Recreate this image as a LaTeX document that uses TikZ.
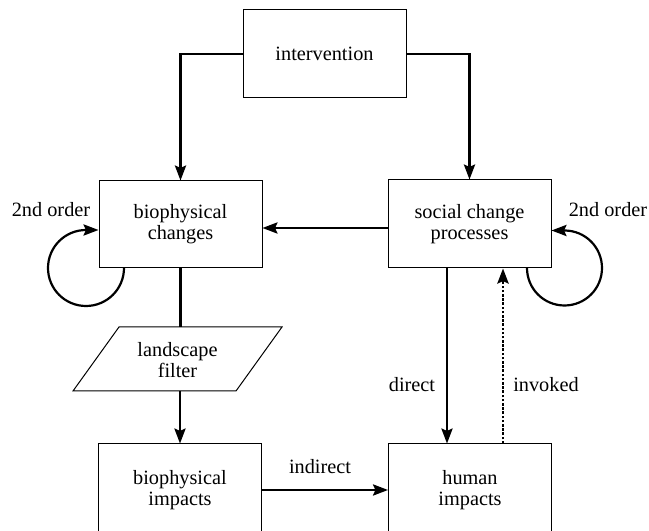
\documentclass[tikz,border=0pt]{standalone}
\usepackage{fontspec}
\setmainfont{Liberation Serif}
\usetikzlibrary{arrows.meta}
\begin{document}
\begin{tikzpicture}[x=0.5pt,y=0.5pt,
  box/.style={draw, line width=0.5pt, minimum width=81.5pt, minimum height=44pt, align=center, inner sep=0pt},
  arr/.style={line width=1.1pt, -{Stealth[length=7.5pt,width=5.6pt,inset=1.2pt]}},
  thick line/.style={line width=1.1pt},
  lbl/.style={inner sep=0pt, align=center},
  font=\fontsize{10.15}{10.4}\selectfont]
\useasboundingbox (0,0) rectangle (649,531);
\clip (0,0) rectangle (649,531);
% boxes
\node[box] (interv) at (324.5,477) {intervention};
\node[box, minimum height=43.5pt] (bchg) at (180.5,306.5) {biophysical\\changes};
\node[box] (soc) at (469.5,307) {social change\\processes};
\node[box, minimum height=46pt] (bimp) at (180,41) {biophysical\\impacts};
\node[box, minimum height=46pt] (himp) at (470,41) {human\\impacts};
% filter
\draw[line width=0.5pt] (119,204) -- (282,204) -- (236,140) -- (73,140) -- cycle;
\node[lbl] (filter) at (177.5,171) {landscape\\filter};
% helper coordinates
\coordinate (m) at (0,303);
\coordinate (ftop) at (0,204);
\coordinate (fbot) at (0,140);
\coordinate (l0) at (124,263);
\coordinate (lt) at (0,301);
\coordinate (r0) at (527,263);
\coordinate (rt) at (0,300.5);
\coordinate (dx) at (447,0);
\coordinate (ix) at (503,0);
% connectors
\draw[arr] (interv.west) -| (bchg.north);
\draw[arr] (interv.east) -| (soc.north);
\draw[arr] (soc.west |- m) -- (bchg.east |- m);
\draw[thick line] (bchg.south) -- (bchg.south |- ftop);
\draw[arr] (bimp.north |- fbot) -- (bimp.north);
\draw[arr] (bimp.east) -- (himp.west);
\draw[arr] (soc.south -| dx) -- (himp.north -| dx);
\draw[arr, line width=1.3pt, dash pattern=on 1.3pt off 0.8pt] (himp.north -| ix) -- (soc.south -| ix);
\draw[arr] (l0) arc[start angle=0, end angle=-270, radius=19pt] -- (bchg.west |- lt);
\draw[arr] (r0) arc[start angle=180, end angle=450, radius=18.75pt] -- (soc.east |- rt);
% labels
\node[lbl] (ldirect) at (412,146) {direct};
\node[lbl] (linvoked) at (546,146) {invoked};
\node[lbl] (lindirect) at (320,64) {indirect};
\node[lbl] (lorder1) at (51,321) {2nd order};
\node[lbl] (lorder2) at (608,321) {2nd order};
\end{tikzpicture}
\end{document}
